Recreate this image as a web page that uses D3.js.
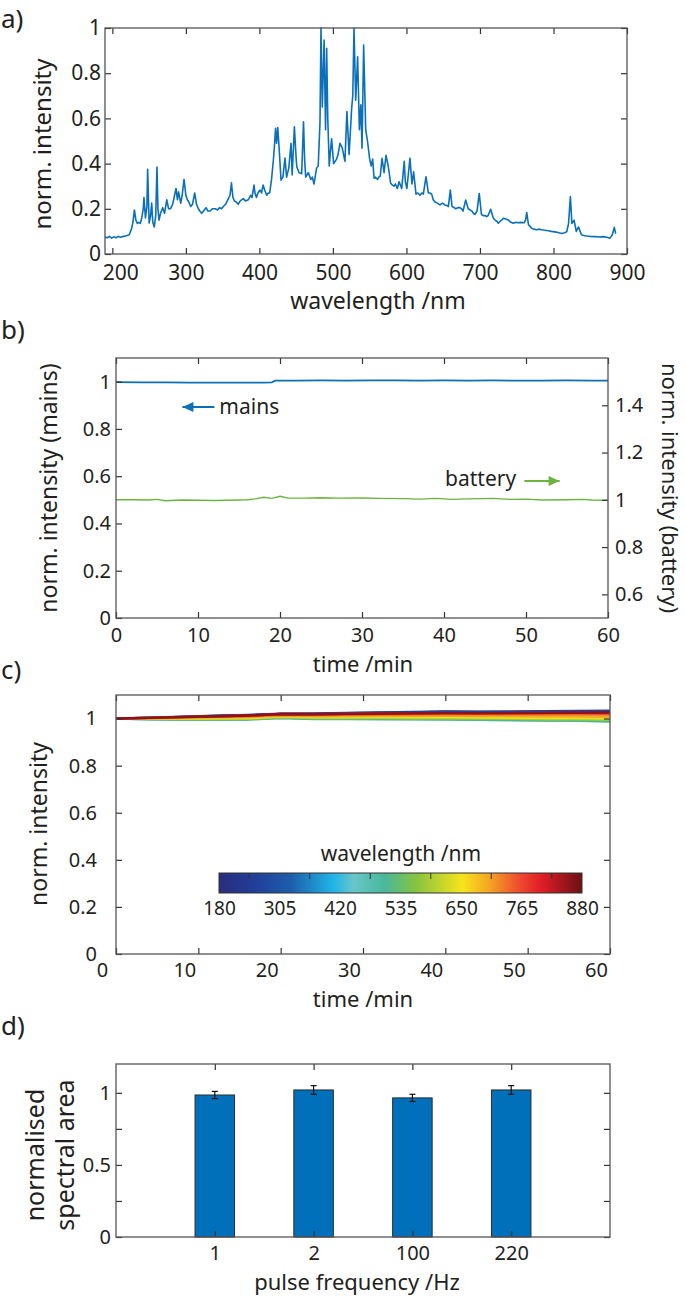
<!DOCTYPE html>
<html>
<head>
<meta charset="utf-8">
<title>Spectral stability</title>
<style>
    body { margin: 0; background: #fff; }
</style>
</head>
<body>
<svg id="fig" width="685" height="1297"></svg>

<script src="https://d3js.org/d3.v7.min.js"></script>
<script>
// a) emission spectrum
const waveNm = [190,193,196,199,202,205,208,211,214,217,220,223,226,228,230,232,234,236,238,240,242,243,245,247,248,250,252,253.5,255,257,259,260.7,262,263.5,265.5,268.5,271,274,276.5,279,282,284,286.6,288.5,290,293,295,297.5,300,302,304,306.6,309,312,314.5,317,319,321.5,324,327.5,330,333,336,340,343,346,348.5,351,354,357.8,360,362,364,366,368.5,371,374,378,381,385,388,390,392.7,394,396,398,400.8,403,405,407.5,410,412,414,416.5,419,420.5,422,423.4,425,427,429.4,432,434.8,437,440,443,444.6,447.6,449.5,450.8,454,457.5,460,461.5,463,466.5,470,472,474.3,477.8,480,482.4,483.8,485.6,488,490,491.5,493,495,496.5,498.2,501,503,505,507,509.6,512.7,514.5,516.4,519,522,525.5,527,528.7,531,533.6,536,538,539.6,541.8,544.6,547,550,552,554,556,558,560.7,562.5,564.4,566.8,569.6,572.2,575.4,578.5,581,583,585,587.6,590,593.6,597,598.5,600.6,604.8,607.5,609.8,613,615.5,618.4,621,623,626.6,629.8,632,634.3,636.5,638.8,642,645.6,649,652.4,655,657,659.7,662,665,667,670,672.8,675,677,680.6,684,686.5,689,691,693,696,699,702,704.5,707,709,711,714.6,718,720.5,723,725,727,729.5,731.8,735,738.6,742,745.4,748.5,752,756,760,762,763.6,766,770.3,773,777,780,784,788,793,797,802,806,811,815,818,820.5,823,825,828,831,834,838,841,845,850,856.6,862,868,872,877,880,882.7,884.6];
const normInt = [.075,.072,.078,.07,.076,.072,.078,.074,.077,.079,.082,.085,.11,.14,.195,.15,.135,.14,.135,.16,.2,.25,.16,.21,.375,.137,.17,.225,.14,.12,.17,.385,.2,.15,.18,.205,.18,.24,.2,.2,.22,.25,.29,.24,.275,.225,.26,.33,.26,.24,.23,.21,.22,.27,.22,.2,.19,.18,.19,.205,.19,.19,.2,.2,.195,.205,.2,.21,.22,.245,.26,.315,.25,.235,.23,.22,.235,.245,.235,.24,.26,.25,.305,.27,.25,.27,.283,.27,.305,.28,.26,.27,.27,.33,.415,.48,.556,.49,.56,.46,.327,.34,.425,.34,.38,.49,.35,.563,.45,.386,.36,.355,.585,.42,.34,.36,.33,.34,.31,.38,.39,.58,1.0,.65,.947,.55,.91,.6,.39,.45,.51,.4,.41,.42,.44,.49,.47,.44,.41,.63,.44,.645,.7,1.0,.68,.873,.55,.66,.468,.925,.55,.5,.42,.39,.42,.335,.34,.33,.34,.345,.423,.36,.437,.386,.313,.305,.3,.31,.29,.32,.29,.41,.32,.29,.424,.31,.364,.265,.27,.26,.27,.265,.342,.27,.27,.265,.24,.23,.225,.217,.225,.217,.215,.21,.283,.21,.205,.2,.205,.205,.2,.19,.239,.2,.195,.19,.18,.175,.19,.268,.175,.17,.17,.165,.17,.198,.16,.15,.145,.136,.143,.15,.158,.155,.15,.14,.136,.14,.138,.14,.138,.15,.183,.13,.114,.11,.107,.11,.107,.105,.103,.1,.098,.095,.091,.094,.098,.135,.254,.135,.15,.1,.12,.085,.082,.08,.078,.077,.075,.077,.074,.07,.085,.118,.09];
const aXTicks = [200, 300, 400, 500, 600, 700, 800, 900];
const aYTicks = [0, 0.2, 0.4, 0.6, 0.8, 1];

// b) mains vs battery over an hour
const mainsT = [0, 3, 6, 9, 12, 15, 18, 19, 19.4, 22, 25, 28, 31, 34, 37, 40, 43, 46, 49, 52, 55, 58, 60];
const mainsV = [0.998, 0.997, 0.997, 0.996, 0.996, 0.996, 0.996, 0.997, 1.004, 1.004, 1.005, 1.004, 1.005, 1.005, 1.004, 1.005, 1.004, 1.005, 1.004, 1.004, 1.005, 1.004, 1.004];
const batteryT = [0, 2, 4, 5, 6, 8, 10, 12, 15, 16, 17, 18, 19, 20, 21, 23, 25, 27, 30, 32, 35, 37, 39, 41, 43, 46, 48, 50, 52, 55, 57, 58, 60];
const batteryV = [1.0, 1.0, 0.999, 1.002, 0.996, 0.999, 0.998, 0.997, 0.999, 1.0, 1.004, 1.011, 1.006, 1.015, 1.007, 1.007, 1.009, 1.007, 1.008, 1.006, 1.005, 1.003, 1.006, 1.002, 1.004, 1.006, 1.002, 1.003, 0.999, 1.0, 1.002, 0.999, 0.998];
const timeTicks = [0, 10, 20, 30, 40, 50, 60];
const bYTicks = [0, 0.2, 0.4, 0.6, 0.8, 1];
const bRTicks = [0.6, 0.8, 1, 1.2, 1.4];

// c) drift per wavelength
const driftT = [0, 4, 8, 12, 16, 20, 24, 28, 32, 36, 40, 44, 48, 52, 56, 60];
const driftWl = [180, 260, 340, 420, 500, 580, 640, 700, 740, 780, 820, 860];
const drift180 = [1, 1.003, 1.007, 1.011, 1.014, 1.020, 1.020, 1.023, 1.025, 1.026, 1.029, 1.028, 1.028, 1.029, 1.030, 1.031];
const drift260 = [1, 1.004, 1.008, 1.012, 1.015, 1.021, 1.022, 1.024, 1.026, 1.028, 1.030, 1.029, 1.030, 1.031, 1.032, 1.033];
const drift340 = [1, 1.001, 1.002, 1.004, 1.006, 1.012, 1.010, 1.011, 1.012, 1.012, 1.013, 1.011, 1.010, 1.009, 1.008, 1.006];
const drift420 = [1, 0.997, 0.996, 0.996, 0.997, 1.003, 0.999, 0.999, 0.999, 0.998, 0.998, 0.996, 0.995, 0.993, 0.992, 0.990];
const drift500 = [1, 0.997, 0.995, 0.995, 0.996, 1.002, 0.998, 0.998, 0.997, 0.997, 0.996, 0.995, 0.993, 0.991, 0.990, 0.987];
const drift580 = [1, 0.999, 0.998, 0.998, 0.999, 1.005, 1.002, 1.002, 1.002, 1.001, 1.001, 1.000, 0.999, 0.997, 0.997, 0.995];
const drift640 = [1, 1.000, 1.000, 1.001, 1.002, 1.008, 1.005, 1.005, 1.006, 1.005, 1.005, 1.004, 1.003, 1.002, 1.002, 1.000];
const drift700 = [1, 1.001, 1.003, 1.005, 1.006, 1.012, 1.010, 1.011, 1.012, 1.012, 1.012, 1.011, 1.011, 1.010, 1.010, 1.008];
const drift740 = [1, 1.002, 1.005, 1.008, 1.010, 1.016, 1.015, 1.016, 1.017, 1.018, 1.018, 1.018, 1.018, 1.018, 1.019, 1.017];
const drift780 = [1, 1.003, 1.006, 1.009, 1.012, 1.018, 1.017, 1.019, 1.020, 1.021, 1.022, 1.021, 1.022, 1.022, 1.023, 1.022];
const drift820 = [1, 1.003, 1.007, 1.010, 1.013, 1.019, 1.019, 1.020, 1.022, 1.023, 1.024, 1.023, 1.024, 1.024, 1.025, 1.024];
const drift860 = [1, 1.003, 1.006, 1.010, 1.013, 1.019, 1.018, 1.020, 1.021, 1.022, 1.023, 1.023, 1.023, 1.024, 1.025, 1.026];
const driftSeries = [drift180, drift260, drift340, drift420, drift500, drift580, drift640, drift700, drift740, drift780, drift820, drift860];
const cbarLabels = [180, 305, 420, 535, 650, 765, 880];
const cmapWl = [180, 250, 320, 400, 440, 500, 560, 650, 700, 760, 800, 880];
const cmapCol = ["#2a2d7c", "#213f99", "#1d5fac", "#1fb5e8", "#6ac5c8", "#49b89a", "#86c440", "#f7e41a", "#f5a623", "#ee4a2f", "#e31e26", "#6b1014"];

// d) spectral area vs pulse frequency
const pulseHz = ["1", "2", "100", "220"];
const areaVal = [0.985, 1.02, 0.965, 1.02];
const areaErr = [0.025, 0.03, 0.025, 0.03];
const dYTicks = [0, 0.25, 0.5, 0.75, 1];
const dYLabels = [0, 0.5, 1];

const FONT = '"Noto Sans", "Open Sans", sans-serif';
const INK = "#231f20";
const BLUE = "#0a70b9";
const GREEN = "#6cb33f";

const svg = d3.select("#fig");

function frame(x, y) {
    const [x0, x1] = x.range(), [yb, yt] = y.range();
    svg.append("rect")
        .attr("x", x0).attr("y", yt)
        .attr("width", x1 - x0).attr("height", yb - yt)
        .attr("fill", "none").attr("stroke", "#555").attr("stroke-width", 1.3);
}

function axis(gen, tx, ty, fs, dx) {
    const g = svg.append("g").attr("transform", `translate(${tx},${ty})`).call(gen);
    g.select(".domain").remove();
    g.selectAll(".tick line").attr("stroke", "#333").attr("stroke-width", 1.2);
    g.selectAll(".tick text")
        .attr("font-family", FONT).attr("font-size", fs || 10).attr("fill", INK);
    if (dx) g.selectAll(".tick text").attr("dx", dx);
    return g;
}

function label(txt, x, y, fs, rot, anchor) {
    const t = svg.append("text")
        .attr("transform", `translate(${x},${y})` + (rot ? ` rotate(${rot})` : ""))
        .attr("font-family", FONT).attr("font-size", fs).attr("fill", INK)
        .attr("text-anchor", anchor || "middle")
        .text(txt);
    return t;
}

const fmt = d3.format("~g");

// ---------- a) ----------
const ax = d3.scaleLinear().domain([190, 900]).range([105, 627]);
const ay = d3.scaleLinear().domain([0, 1]).range([254, 28]);

svg.append("path")
    .datum(d3.zip(waveNm, normInt))
    .attr("fill", "none").attr("stroke", BLUE).attr("stroke-width", 1.6)
    .attr("stroke-linejoin", "round")
    .attr("d", d3.line().x(d => ax(d[0])).y(d => ay(d[1])));

const aBottom = axis(d3.axisBottom(ax).tickValues(aXTicks).tickSize(-6).tickPadding(11), 0, 254, 21);
// first wavelength label sits a little right of its tick, clear of the "0"
aBottom.selectAll(".tick text").filter(d => d === 200).attr("dx", 8);
axis(d3.axisTop(ax).tickValues(aXTicks).tickSize(-6).tickFormat(""), 0, 28);
axis(d3.axisLeft(ay).tickValues(aYTicks).tickSize(-6).tickPadding(4).tickFormat(fmt), 105, 0, 21);
axis(d3.axisRight(ay).tickValues(aYTicks).tickSize(-6).tickFormat(""), 627, 0);
frame(ax, ay);

label("a)", 1, 28, 26, 0, "start");
label("norm. intensity", 51, 144, 24, -90);
label("wavelength /nm", 378, 309, 23);

// ---------- b) ----------
const bx = d3.scaleLinear().domain([0, 60]).range([116, 608]);
const byL = d3.scaleLinear().domain([0, 1.1]).range([618, 358]);
const byR = d3.scaleLinear().domain([0.5, 1.6]).range([618, 358]);

svg.append("path")
    .datum(d3.zip(batteryT, batteryV))
    .attr("fill", "none").attr("stroke", GREEN).attr("stroke-width", 1.4)
    .attr("d", d3.line().x(d => bx(d[0])).y(d => byR(d[1])));
svg.append("path")
    .datum(d3.zip(mainsT, mainsV))
    .attr("fill", "none").attr("stroke", BLUE).attr("stroke-width", 1.7)
    .attr("d", d3.line().x(d => bx(d[0])).y(d => byL(d[1])));

axis(d3.axisBottom(bx).tickValues(timeTicks).tickSize(-6).tickPadding(10), 0, 618, 20);
axis(d3.axisTop(bx).tickValues(timeTicks).tickSize(-6).tickFormat(""), 0, 358);
axis(d3.axisLeft(byL).tickValues(bYTicks).tickSize(-6).tickPadding(5).tickFormat(fmt), 116, 0, 20);
axis(d3.axisRight(byR).tickValues(bRTicks).tickSize(-6).tickPadding(7).tickFormat(fmt), 608, 0, 20);
frame(bx, byL);

// arrow annotations, placed in data coordinates
function arrow(x1, x2, y, col) {
    svg.append("line").attr("x1", x1).attr("x2", x2).attr("y1", y).attr("y2", y)
        .attr("stroke", col).attr("stroke-width", 2);
    const dir = Math.sign(x2 - x1);
    svg.append("path")
        .attr("d", `M${x2},${y} L${x2 - dir * 11},${y - 5} L${x2 - dir * 11},${y + 5} Z`)
        .attr("fill", col);
}
arrow(bx(12), bx(8.1), byL(0.893), BLUE);
label("mains", bx(12.6), byL(0.893) + 7, 21, 0, "start");
label("battery", bx(48.8), byL(0.58) + 5, 21, 0, "end");
arrow(bx(49.8), bx(54.1), byL(0.58), GREEN);

label("b)", 1, 339, 26, 0, "start");
label("norm. intensity (mains)", 57, 488, 23, -90);
label("norm. intensity (battery)", 662, 488, 22, 90);
label("time /min", 363, 672, 22);

// ---------- c) ----------
const cx = d3.scaleLinear().domain([0, 60]).range([116, 610]);
const cy = d3.scaleLinear().domain([0, 1.1]).range([954, 695]);
const cmap = d3.scaleLinear().domain(cmapWl).range(cmapCol);

const cLine = d3.line().x(d => cx(d[0])).y(d => cy(d[1]));
driftSeries.forEach((s, i) => {
    svg.append("path")
        .datum(d3.zip(driftT, s))
        .attr("fill", "none").attr("stroke", cmap(driftWl[i])).attr("stroke-width", 2.4)
        .attr("stroke-linejoin", "round")
        .attr("d", cLine);
});

axis(d3.axisBottom(cx).tickValues(timeTicks).tickSize(-6).tickPadding(9), 0, 954, 20, -14);
axis(d3.axisTop(cx).tickValues(timeTicks).tickSize(-6).tickFormat(""), 0, 695);
axis(d3.axisLeft(cy).tickValues(bYTicks).tickSize(-6).tickPadding(5).tickFormat(fmt), 116, 0, 20, -14);
axis(d3.axisRight(cy).tickValues(bYTicks).tickSize(-6).tickFormat(""), 610, 0);
frame(cx, cy);

// colour bar
const cb = d3.scaleLinear().domain([180, 880]).range([219, 582]);
const grad = svg.append("defs").append("linearGradient").attr("id", "jet");
cmapWl.forEach((w, i) => {
    grad.append("stop").attr("offset", (w - 180) / 700).attr("stop-color", cmapCol[i]);
});
svg.append("rect").attr("x", cb(180)).attr("y", 873).attr("width", cb(880) - cb(180)).attr("height", 20)
    .attr("fill", "url(#jet)").attr("stroke", "#333").attr("stroke-width", 1);
const cbPos = d3.scalePoint().domain(cbarLabels).range(cb.range());
const cbMid = cbarLabels.slice(1).map((v, i) => (cbPos(v) + cbPos(cbarLabels[i])) / 2);
svg.append("g").selectAll("line").data(cbMid).join("line")
    .attr("x1", d => d).attr("x2", d => d).attr("y1", 873).attr("y2", 879)
    .attr("stroke", "#333").attr("stroke-width", 1);
axis(d3.axisBottom(cbPos).tickSize(0).tickPadding(9), 0, 893, 19);
label("wavelength /nm", 401, 861, 21);

label("c)", 1, 679, 26, 0, "start");
label("norm. intensity", 47, 824, 23, -90);
label("time /min", 363, 1007, 22);

// ---------- d) ----------
const dx = d3.scaleLinear().domain([0, 5]).range([116, 610]);
const dy = d3.scaleLinear().domain([0, 1.2]).range([1237, 1064]);
const barW = 0.4 * (dx(1) - dx(0));

svg.append("g").selectAll("rect").data(areaVal).join("rect")
    .attr("x", (d, i) => dx(i + 1) - barW / 2)
    .attr("y", d => dy(d))
    .attr("width", barW)
    .attr("height", d => dy(0) - dy(d))
    .attr("fill", "#0070ba").attr("stroke", "#2b2b2b").attr("stroke-width", 1);

const eb = svg.append("g").attr("stroke", "#111").attr("stroke-width", 1.2);
areaVal.forEach((v, i) => {
    const xc = dx(i + 1), lo = dy(v - areaErr[i]), hi = dy(v + areaErr[i]);
    eb.append("line").attr("x1", xc).attr("x2", xc).attr("y1", lo).attr("y2", hi);
    eb.append("line").attr("x1", xc - 3).attr("x2", xc + 3).attr("y1", lo).attr("y2", lo);
    eb.append("line").attr("x1", xc - 3).attr("x2", xc + 3).attr("y1", hi).attr("y2", hi);
});

axis(d3.axisBottom(dx).tickValues([1, 2, 3, 4]).tickSize(-6).tickPadding(9).tickFormat(d => pulseHz[d - 1]), 0, 1237, 20);
axis(d3.axisTop(dx).tickValues([1, 2, 3, 4]).tickSize(-6).tickFormat(""), 0, 1064);
axis(d3.axisLeft(dy).tickValues(dYTicks).tickSize(-6).tickPadding(5).tickFormat(d => dYLabels.includes(d) ? fmt(d) : ""), 116, 0, 20);
axis(d3.axisRight(dy).tickValues(dYTicks).tickSize(-6).tickFormat(""), 610, 0);
frame(dx, dy);

label("d)", 1, 1035, 26, 0, "start");
label("normalised", 44, 1155, 25, -90);
label("spectral area", 74, 1155, 25, -90);
label("pulse frequency /Hz", 357, 1290, 22);
</script>
</body>
</html>
